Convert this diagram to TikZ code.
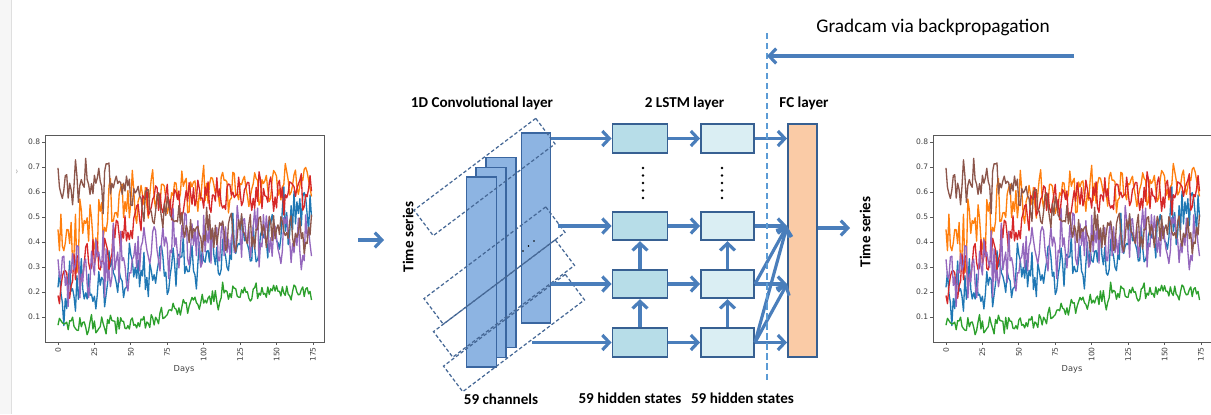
\documentclass[tikz,border=0pt]{standalone}
\usepackage{fontspec}
\setmainfont{Carlito}
\newfontfamily\tickfont{DejaVu Sans}
\usepackage{tikz}
\usetikzlibrary{arrows.meta,positioning,calc}

\definecolor{arrowblue}{RGB}{74,126,187}
\definecolor{convfill}{RGB}{141,180,226}
\definecolor{convedge}{RGB}{58,102,160}
\definecolor{lstmfillA}{RGB}{183,221,232}
\definecolor{lstmfillB}{RGB}{218,238,243}
\definecolor{boxedge}{RGB}{55,96,146}
\definecolor{fcfill}{RGB}{250,203,166}
\definecolor{dashblue}{RGB}{91,155,213}
\definecolor{winedge}{RGB}{70,104,150}
\definecolor{mplblue}{HTML}{1F77B4}
\definecolor{mplorange}{HTML}{FF7F0E}
\definecolor{mplgreen}{HTML}{2CA02C}
\definecolor{mplred}{HTML}{D62728}
\definecolor{mplpurple}{HTML}{9467BD}
\definecolor{mplbrown}{HTML}{8C564B}

\tikzset{
  lbl/.style={font=\fontsize{8.6}{10}\selectfont\bfseries, inner sep=0},
  flow/.style={draw=arrowblue, line width=1.8pt, -{Straight Barb[length=4pt,width=8.5pt]}},
  convbox/.style={draw=convedge, fill=convfill, line width=1.1pt, inner sep=0, minimum width=0.6cm, minimum height=3.8cm},
  window/.style={draw=winedge, line width=0.7pt, dash pattern=on 2pt off 1.3pt, rotate=37, inner sep=0, minimum width=3.05cm, minimum height=0.64cm},
  lstmA/.style={draw=boxedge, fill=lstmfillA, line width=1.1pt, inner sep=0, minimum width=1.1cm, minimum height=0.57cm},
  lstmB/.style={lstmA, fill=lstmfillB, minimum width=1.06cm},
  fcbox/.style={draw=boxedge, fill=fcfill, line width=1.1pt, inner sep=0, minimum width=0.58cm, minimum height=4.66cm},
  vdot/.style={circle, fill=black, inner sep=0, minimum size=1.6pt},
  cutline/.style={draw=dashblue, line width=1.1pt, dash pattern=on 3.5pt off 2.2pt},
  series/.style={line width=0.75pt, line join=round},
  axisframe/.style={draw=black!65, line width=0.5pt},
  ticklbl/.style={font=\tickfont\fontsize{4.3}{5}\selectfont, text=black!75, inner sep=0.5pt}
}

% #1 = x of day 0, #2 = prefix for node names
\newcommand{\tsplot}[2]{%
  \begin{scope}[shift={(#1,342)}, x=0.02914cm, y=5cm]
    \pgfmathsetseed{11}
    \draw[series, mplblue] plot[domain=0:174, samples=175]
      (\x, {0.18+0.28*\x/175+0.10*max(\x-130,0)/45+0.04*sin(\x*51.43+40)+0.07*rand+0.16*rand*rand*rand});
    \draw[series, mplorange] plot[domain=0:174, samples=175]
      (\x, {0.39+0.18*min(\x/55,1)+0.07*\x/175+0.04*sin(\x*51.43)+(0.15-0.10*min(\x/80,1))*rand+0.06*rand*rand*rand});
    \draw[series, mplgreen] plot[domain=0:174, samples=175]
      (\x, {0.07+0.13*min(max(\x-55,0)/65,1)+0.015*sin(\x*51.43)+0.03*rand+0.03*rand*rand*rand});
    \draw[series, mplred] plot[domain=0:174, samples=175]
      (\x, {0.21+0.32*min(\x/65,1)+0.08*\x/175+0.03*sin(\x*51.43+200)+0.06*rand+0.08*rand*rand*rand});
    \draw[series, mplpurple] plot[domain=0:174, samples=175]
      (\x, {0.26+0.14*min(\x/80,1)+0.04*sin(\x*51.43+300)+0.09*rand+0.16*rand*rand*rand});
    \draw[series, mplbrown] plot[domain=0:174, samples=175]
      (\x, {0.64-0.20*min(max(\x-40,0)/55,1)+0.03*sin(\x*51.43+150)+0.05*rand+0.12*rand*rand*rand});
    \draw[axisframe] (-8.9,0) rectangle (182.6,0.828);
    \foreach \v [count=\i] in {0.1,0.2,0.3,0.4,0.5,0.6,0.7,0.8} {
      \draw[axisframe] (-8.9,\v) -- (-11,\v);
      \node[ticklbl, anchor=east] (#2y\i) at (-11.4,\v) {\v};
    }
    \foreach \d [count=\i] in {0,25,...,175} {
      \draw[axisframe] (\d,0) -- (\d,-0.012);
      \node[ticklbl, rotate=90, anchor=east] (#2x\i) at (\d,-0.016) {\d};
    }
    \node[ticklbl, font=\tickfont\fontsize{4.7}{5}\selectfont] (#2days) at (86.5,-0.108) {Days};
  \end{scope}}

\begin{document}
\begin{tikzpicture}[x=0.02cm, y=-0.02cm]
  \clip (0,0) rectangle (1211,414);
  \fill[white] (0,0) rectangle (1211,414);
  \fill[gray!7] (0,0) rectangle (11,414);
  \draw[gray!25, line width=0.4pt] (11,0) -- (11,414);
  \node[text=gray!70, font=\fontsize{6}{7}\selectfont, inner sep=0] (chev) at (17,172) {›};

  % input and output plots
  \tsplot{58}{inplot}
  \tsplot{946}{outplot}

  % convolution
  \node[convbox] (convA) at (501,252.5) {};
  \node[convbox] (convB) at (491,262.5) {};
  \node[convbox] (convC) at (481.5,272) {};
  \node[convbox, minimum width=0.58cm] (convD) at (536,228) {};
  \foreach \i/\cx/\cy in {1/484.5/177,2/494.5/265.5,3/504/298.5,4/514/333}
    \node[window] (win\i) at (\cx,\cy) {};
  \foreach \i/\cx/\cy in {1/523/251,2/528.5/246,3/534/241}
    \node[vdot, minimum size=1.1pt] (cdot\i) at (\cx,\cy) {};

  % LSTM
  \foreach \r/\cy in {1/138.5,2/226,3/284,4/342.5} {
    \node[lstmA] (a\r) at (640,\cy) {};
    \node[lstmB] (b\r) at (727.5,\cy) {};
  }
  \foreach \k in {0,...,4} {
    \node[vdot] (da\k) at (643,{168+7.5*\k}) {};
    \node[vdot] (db\k) at (722,{168+7.5*\k}) {};
  }
  \node[fcbox] (fc) at (802.5,240.5) {};

  \node[lbl] (convlbl) at (482,103) {1D Convolutional layer};
  \node[lbl] (lstmlbl) at (684.5,103) {2 LSTM layer};
  \node[lbl] (fclbl) at (804,103) {FC layer};
  \node[lbl, rotate=90] (inlbl) at (408,237) {Time series};
  \node[lbl, rotate=90] (outlbl) at (865,232) {Time series};
  \node[lbl] (chlbl) at (501,399) {59 channels};
  \node[lbl] (hslblA) at (630,398) {59 hidden states};
  \node[lbl] (hslblB) at (742.5,398) {59 hidden states};
  \node[font=\fontsize{11}{13}\selectfont, inner sep=0] (gradlbl) at (933,27) {Gradcam via backpropagation};

  % connectors
  \coordinate (inA) at (358,240);
  \coordinate (inB) at (384,240);
  \coordinate (s2) at (558,226);
  \coordinate (s4) at (532,342.5);
  \coordinate (outB) at (850,228);
  \coordinate (cutTop) at (767,33);
  \coordinate (cutBot) at (767,382);
  \coordinate (gradA) at (1074,56);

  \draw[flow] (inA) -- (inB);
  \draw[flow] (convD.east |- a1.west) -- (a1.west);
  \draw[flow] (s2) -- (a2.west);
  \draw[flow] (convD.east |- a3.west) -- (a3.west);
  \draw[flow] (s4) -- (a4.west);
  \foreach \r in {1,...,4}
    \draw[flow] (a\r) -- (b\r);
  \draw[flow] (a4) -- (a3);
  \draw[flow] (a3) -- (a2);
  \draw[flow] (b4) -- (b3);
  \draw[flow] (b3) -- (b2);
  \foreach \r in {1,...,4}
    \draw[flow] (b\r.east) -- (fc.west |- b\r.east);
  \draw[flow] (b3.east) -- (fc.west |- b2.east);
  \draw[flow] (b4.east) -- (fc.west |- b2.east);
  \draw[flow] (b4.east) -- (fc.west |- b3.east);
  \draw[flow] (fc.east |- outB) -- (outB);

  \draw[cutline] (cutTop) -- (cutBot);
  \draw[flow] (gradA) -- (gradA -| cutTop);
\end{tikzpicture}
\end{document}
